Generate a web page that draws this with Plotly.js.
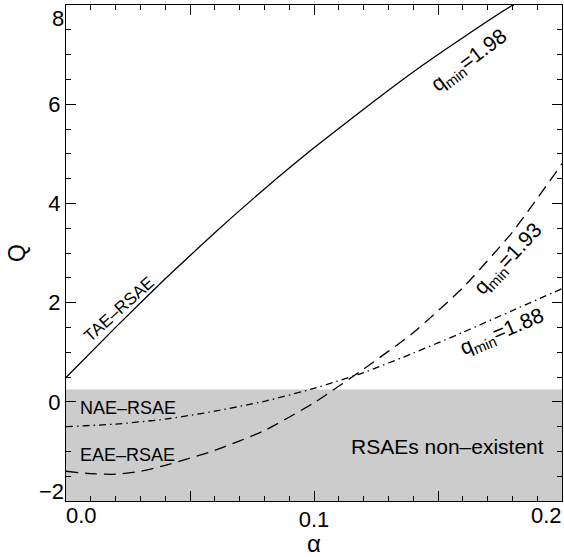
<!DOCTYPE html>
<html>
<head>
<meta charset="utf-8">
<script src="https://cdn.plot.ly/plotly-3.0.1.min.js"></script>
<style>
  html, body { margin: 0; padding: 0; background: #fff; }
  #chart { width: 564px; height: 557px; }
</style>
</head>
<body>
<div id="chart"></div>
<script>
// ---- data ----
// TAE–RSAE, q_min = 1.98 (solid)
const taeAlpha = [0, 0.02, 0.04, 0.06, 0.08, 0.10, 0.12, 0.14, 0.16, 0.18, 0.1806];
const taeQ     = [0.49, 1.50, 2.48, 3.41, 4.29, 5.12, 5.90, 6.65, 7.34, 7.99, 8.00];
// EAE–RSAE, q_min = 1.93 (dashed)
const eaeAlpha = [0, 0.01, 0.02, 0.03, 0.04, 0.06, 0.08, 0.10, 0.12, 0.14, 0.16, 0.18, 0.20];
const eaeQ     = [-1.40, -1.45, -1.46, -1.40, -1.28, -0.98, -0.58, -0.02, 0.66, 1.39, 2.30, 3.42, 4.80];
// NAE–RSAE, q_min = 1.88 (dash-dot)
const naeAlpha = [0, 0.02, 0.04, 0.06, 0.08, 0.10, 0.12, 0.14, 0.16, 0.18, 0.20];
const naeQ     = [-0.50, -0.45, -0.35, -0.19, 0.01, 0.27, 0.59, 0.98, 1.40, 1.84, 2.28];
// shaded region: RSAEs non-existent below this Q
const nonExistentQMax = 0.25;

const xRange = [0, 0.2];
const yRange = [-2, 8];
const xTickVals  = [0, 0.05, 0.1, 0.15, 0.2];
const xTickText  = ['0.0', '', '0.1', '', '0.2'];
const yTickVals  = [-2, 0, 2, 4, 6, 8];
const yTickText  = ['\u22122', '0', '2', '4', '6', '8'];

const labels = {
  tae: 'TAE\u2013RSAE', nae: 'NAE\u2013RSAE', eae: 'EAE\u2013RSAE',
  region: 'RSAEs non\u2013existent',
  q198: 'q<sub>min</sub>=1.98', q193: 'q<sub>min</sub>=1.93', q188: 'q<sub>min</sub>=1.88'
};

// ---- chart ----
const FONT = 'Liberation Sans, Arial, Helvetica, sans-serif';
const lineCommon = { color: '#000', width: 1.3, shape: 'spline', smoothing: 0.5 };

const traces = [
  { x: taeAlpha, y: taeQ, mode: 'lines', line: Object.assign({}, lineCommon, { dash: 'solid' }), hoverinfo: 'skip' },
  { x: eaeAlpha, y: eaeQ, mode: 'lines', line: Object.assign({}, lineCommon, { dash: '12px,7px' }), hoverinfo: 'skip' },
  { x: naeAlpha, y: naeQ, mode: 'lines', line: Object.assign({}, lineCommon, { dash: '7px,4px,1.5px,4px' }), hoverinfo: 'skip' }
];

// interior tick labels drawn by the axis; edge labels drawn inset as annotations
const xInner = xTickText.map((t, i) => (i === 0 || i === xTickText.length - 1) ? '' : t);
const yInner = yTickText.map((t, i) => (i === 0 || i === yTickText.length - 1) ? '' : t);

const tickFont = { family: FONT, size: 22, color: '#000' };
const annFont = (s) => ({ family: FONT, size: s, color: '#000' });

const annotations = [
  // edge tick labels
  { xref: 'x', yref: 'paper', x: xTickVals[0], y: 0, text: xTickText[0], showarrow: false,
    xanchor: 'left', yanchor: 'top', yshift: 0, xshift: -2, font: tickFont },
  { xref: 'x', yref: 'paper', x: xTickVals[xTickVals.length - 1], y: 0, text: xTickText[xTickText.length - 1], showarrow: false,
    xanchor: 'right', yanchor: 'top', yshift: 0, xshift: 2, font: tickFont },
  { xref: 'paper', yref: 'y', x: 0, y: yTickVals[0], text: yTickText[0], showarrow: false,
    xanchor: 'right', yanchor: 'bottom', xshift: 0, yshift: -5, font: tickFont },
  { xref: 'paper', yref: 'y', x: 0, y: yTickVals[yTickVals.length - 1], text: yTickText[yTickText.length - 1], showarrow: false,
    xanchor: 'right', yanchor: 'top', xshift: 0, yshift: 1, font: tickFont },
  // curve / region labels
  { x: 0.0212, y: 1.87, text: labels.tae, showarrow: false, textangle: -42, font: annFont(17) },
  { x: 0.0248, y: -0.13, text: labels.nae, showarrow: false, font: annFont(18) },
  { x: 0.0248, y: -1.07, text: labels.eae, showarrow: false, font: annFont(18) },
  { x: 0.154, y: -0.91, text: labels.region, showarrow: false, font: annFont(21) },
  { x: 0.1625, y: 6.88, text: labels.q198, showarrow: false, textangle: -37, font: annFont(21) },
  { x: 0.1785, y: 2.88, text: labels.q193, showarrow: false, textangle: -47, font: annFont(21) },
  { x: 0.1762, y: 1.40, text: labels.q188, showarrow: false, textangle: -23, font: annFont(21) }
];

const axisCommon = {
  showgrid: false, zeroline: false, showline: true, linecolor: '#000', linewidth: 1.2,
  mirror: 'allticks', ticks: 'inside', ticklen: 10, tickwidth: 1, tickcolor: '#000',
  tickfont: tickFont, automargin: false, fixedrange: true
};

const layout = {
  width: 564, height: 557,
  margin: { l: 66, r: 2, t: 5, b: 56 },
  paper_bgcolor: '#fff', plot_bgcolor: '#fff',
  showlegend: false,
  font: { family: FONT, color: '#000' },
  xaxis: Object.assign({}, axisCommon, {
    range: xRange, tickmode: 'array', tickvals: xTickVals, ticktext: xInner,
    ticklabelstandoff: -2,
    minor: { dtick: 0.01, ticks: 'inside', ticklen: 5, tickwidth: 1, tickcolor: '#000' },
    title: { text: '\u03b1', font: { family: FONT, size: 24, color: '#000' }, standoff: 12 }
  }),
  yaxis: Object.assign({}, axisCommon, {
    range: yRange, tickmode: 'array', tickvals: yTickVals, ticktext: yInner,
    minor: { dtick: 0.5, ticks: 'inside', ticklen: 5, tickwidth: 1, tickcolor: '#000' },
    title: { text: 'Q', font: { family: FONT, size: 23, color: '#000' }, standoff: 16 }
  }),
  shapes: [{
    type: 'rect', layer: 'below', xref: 'paper', yref: 'y',
    x0: 0, x1: 1, y0: yRange[0], y1: nonExistentQMax,
    fillcolor: 'rgb(204,204,204)', line: { width: 0 }
  }],
  annotations: annotations
};

Plotly.newPlot('chart', traces, layout, { staticPlot: true, displayModeBar: false });
</script>
</body>
</html>
